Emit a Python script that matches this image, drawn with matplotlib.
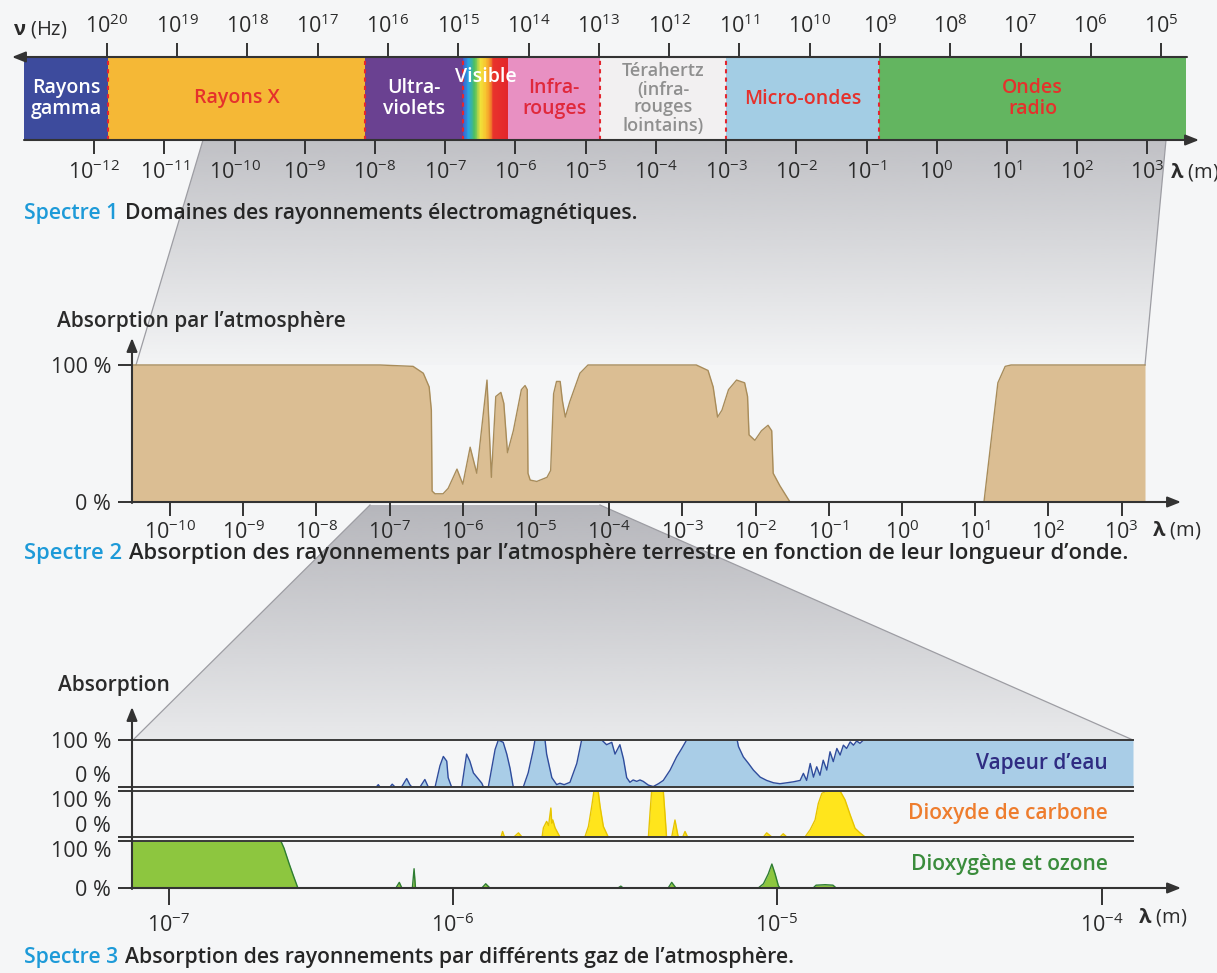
import numpy as np
import matplotlib
matplotlib.use('Agg')
import matplotlib.pyplot as plt
import matplotlib.colors as mcolors
from matplotlib.patches import Polygon
from matplotlib.ticker import NullLocator

plt.rcParams['font.family'] = ['Open Sans', 'DejaVu Sans']
plt.rcParams['mathtext.fontset'] = 'custom'
plt.rcParams['mathtext.rm'] = 'Open Sans'
plt.rcParams['mathtext.it'] = 'Open Sans:italic'
plt.rcParams['mathtext.bf'] = 'Open Sans:bold'

W, H = 1217, 973

# --- Spectre 1 : domaines (bornes en log10 de la longueur d'onde en m)
band_names = ['Rayons\ngamma', 'Rayons X', 'Ultra-\nviolets', 'Visible', 'Infra-\nrouges',
              'Térahertz\n(infra-\nrouges\nlointains)', 'Micro-ondes', 'Ondes\nradio']
band_edges_exp = [-13.0, -11.8, -8.15, -6.75, -6.1, -4.8, -3.0, -0.82, 3.55]
band_colors = ['#3d4b9d', '#f5b836', '#6a4191', None, '#e890c2', '#f2f0f1', '#a3cde4', '#63b560']
band_text_colors = ['white', '#e5312c', 'white', 'white', '#e0293c', '#8f8f8f', '#e5312c', '#e5312c']
rainbow = [(0.0, '#3d5fcf'), (0.12, '#27a6e2'), (0.25, '#4cbf62'), (0.38, '#f0e23a'),
           (0.5, '#f8c42f'), (0.6, '#f3902a'), (0.68, '#e8322c'), (1.0, '#e3262b')]
wl_ticks_1 = list(range(-12, 4))
nu_ticks_1 = list(range(20, 4, -1))
nu_axis_exp = (21.18, 4.645)   # frequency axis as drawn in the book (not exactly c / lambda)

# --- Spectre 2 : absorption par l'atmosphere (log10 lambda en m, %)
atm_log_wl = [-10.52, -7.13, -6.68, -6.54, -6.46, -6.43, -6.42, -6.38, -6.27, -6.20,
              -6.08, -6.00, -5.90, -5.81, -5.74, -5.67, -5.61, -5.55, -5.48, -5.44,
              -5.39, -5.31, -5.20, -5.15, -5.12, -5.11, -5.08, -4.99, -4.85, -4.80,
              -4.76, -4.72, -4.67, -4.64, -4.60, -4.54, -4.40, -4.29, -2.81, -2.65,
              -2.58, -2.52, -2.46, -2.37, -2.26, -2.15, -2.11, -2.09, -2.01, -1.92,
              -1.83, -1.78, -1.76, -1.67, -1.53, 1.12, 1.31, 1.41, 1.49, 3.32]
atm_abs = [100, 100, 99, 94, 84, 67, 8, 6, 6, 10,
           24, 13, 40, 21, 55, 89, 18, 77, 80, 72,
           36, 52, 82, 85, 82, 21, 16, 15, 18, 23,
           79, 88, 88, 74, 62, 73, 94, 100, 100, 96,
           84, 62, 67, 82, 89, 87, 77, 49, 45, 52,
           56, 52, 21, 12, 0, 0, 87, 99, 100, 100]
atm_ticks = list(range(-10, 4))

# --- Spectre 3 : absorption par gaz (log10 lambda en m, %)
h2o_log_wl = [-7.13, -6.27, -6.263, -6.257, -6.222, -6.214, -6.204, -6.181, -6.163, -6.152,
              -6.145, -6.116, -6.099, -6.087, -6.063, -6.046, -6.034, -6.022, -6.017, -6.005,
              -5.973, -5.958, -5.948, -5.937, -5.911, -5.906, -5.891, -5.870, -5.860, -5.845,
              -5.834, -5.824, -5.814, -5.783, -5.768, -5.752, -5.747, -5.716, -5.711, -5.695,
              -5.680, -5.670, -5.657, -5.639, -5.618, -5.603, -5.541, -5.526, -5.510, -5.500,
              -5.485, -5.474, -5.464, -5.454, -5.444, -5.433, -5.423, -5.413, -5.397, -5.382,
              -5.366, -5.351, -5.330, -5.310, -5.294, -5.279, -5.123, -5.119, -5.104, -5.088,
              -5.073, -5.052, -5.032, -5.011, -4.991, -4.970, -4.950, -4.929, -4.919, -4.909,
              -4.898, -4.888, -4.878, -4.868, -4.858, -4.847, -4.837, -4.827, -4.816, -4.806,
              -4.796, -4.786, -4.775, -4.765, -4.755, -4.745, -4.734, -3.905]
h2o_abs = [0, 0, 5, 0, 0, 6, 0, 0, 18, 5,
           0, 0, 16, 0, 0, 45, 65, 55, 20, 0,
           0, 70, 55, 30, 8, 0, 0, 80, 100, 95,
           70, 40, 0, 0, 30, 80, 100, 100, 70, 20,
           5, 8, 5, 10, 50, 100, 100, 90, 95, 70,
           90, 60, 20, 10, 15, 12, 15, 12, 4, 1,
           7, 14, 36, 64, 82, 100, 100, 86, 64, 50,
           36, 21, 14, 9, 7, 9, 11, 14, 29, 14,
           50, 21, 43, 25, 57, 36, 75, 54, 82, 68,
           89, 82, 96, 89, 98, 93, 100, 100]
co2_log_wl = [-7.13, -5.852, -5.847, -5.841, -5.812, -5.798, -5.787, -5.725, -5.721, -5.711,
              -5.705, -5.698, -5.695, -5.692, -5.685, -5.676, -5.670, -5.593, -5.582, -5.572,
              -5.565, -5.552, -5.546, -5.536, -5.521, -5.397, -5.392, -5.387, -5.351, -5.346,
              -5.341, -5.325, -5.315, -5.305, -5.291, -5.284, -5.276, -5.042, -5.032, -5.016,
              -4.991, -4.981, -4.970, -4.914, -4.898, -4.883, -4.873, -4.862, -4.847, -4.806,
              -4.791, -4.775, -4.760, -4.745, -4.729, -3.905]
co2_abs = [0, 0, 12, 0, 0, 9, 0, 0, 20, 34,
           25, 63, 30, 37, 20, 8, 0, 0, 23, 66,
           100, 100, 66, 23, 0, 0, 52, 100, 100, 52,
           0, 0, 37, 0, 0, 12, 0, 0, 9, 0,
           0, 7, 0, 0, 16, 37, 73, 95, 100, 100,
           81, 48, 19, 9, 0, 0]
o2_log_wl = [-7.13, -6.606, -6.595, -6.577, -6.563, -6.546, -6.201, -6.189, -6.180, -6.143,
             -6.137, -6.132, -5.911, -5.899, -5.886, -5.491, -5.482, -5.475, -5.336, -5.325,
             -5.312, -5.058, -5.042, -5.027, -5.016, -5.006, -4.996, -4.991, -4.889, -4.880,
             -4.852, -4.828, -4.818, -3.905]
o2_abs = [100, 100, 85, 52, 28, 0, 0, 12, 0, 0,
          41, 0, 0, 9, 0, 0, 4, 0, 0, 12,
          0, 0, 9, 30, 51, 30, 5, 0, 0, 6,
          7, 6, 0, 0]
gas_names = ['Vapeur d’eau', 'Dioxyde de carbone', 'Dioxygène et ozone']
gas_ticks = [-7, -6, -5, -4]
# the book's decades are not all the same width: knots of the drawn axis (exponent -> px)
knot_exp = [-9, -7, -6, -5, -4, -2]
knot_pos = [-568, 0, 284, 608, 933, 1583]


def fwd(x):
    return np.interp(np.log10(np.maximum(x, 1e-30)), knot_exp, knot_pos)


def inv(p):
    return 10.0 ** np.interp(p, knot_pos, knot_exp)


def pow_labels(exps):
    return [r'$10^{%d}$' % e for e in exps]


fig = plt.figure(figsize=(W / 100, H / 100), dpi=100, facecolor='#f5f6f7')


def px_axes(x0, y0, x1, y1, **kw):
    return fig.add_axes([x0 / W, 1 - y1 / H, (x1 - x0) / W, (y1 - y0) / H], **kw)


bg = px_axes(0, 0, W, H, zorder=0)
ov = px_axes(0, 0, W, H, zorder=10)


def grey_wedge(pts, a_top, a_bot):
    poly = Polygon(pts, closed=True, fc='none', ec='none')
    bg.add_patch(poly)
    xs = [p[0] for p in pts]
    ys = [p[1] for p in pts]
    grad = np.zeros((64, 1, 4))
    grad[..., :3] = mcolors.to_rgb('#8c8c94')
    grad[:, 0, 3] = np.linspace(a_top, a_bot, 64)
    im = bg.imshow(grad, extent=(min(xs), max(xs), max(ys), min(ys)), aspect='auto',
                   interpolation='bilinear', zorder=1)
    im.set_clip_path(poly)
    for a, b in ((pts[0], pts[3]), (pts[1], pts[2])):
        bg.plot([a[0], b[0]], [a[1], b[1]], color='#9d9da3', lw=0.9, zorder=2)


grey_wedge([(203, 140), (1166, 140), (1145, 365), (136, 365)], 0.5, 0.02)
grey_wedge([(370, 505), (600, 505), (1133, 740), (133, 740)], 0.6, 0.12)
for a in (bg, ov):
    a.set_xlim(0, W)
    a.set_ylim(H, 0)
    a.set_axis_off()

arrow = dict(arrowstyle='-|>,head_length=0.8,head_width=0.32', color='#333333', lw=1.5,
             shrinkA=0, shrinkB=0)
tick_kw = dict(direction='out', width=1.4, color='#333333', labelsize=15.5, labelcolor='#2b2b2b')
unit_kw = dict(fontsize=14.5, va='center', color='#2b2b2b')

# ---------------- Spectre 1
ax1 = px_axes(24, 57, 1186, 140, zorder=3)
ax1.set_xscale('log')
ax1.set_xlim(10.0 ** band_edges_exp[0], 10.0 ** band_edges_exp[-1])
ax1.set_ylim(0, 1)
edges = 10.0 ** np.array(band_edges_exp)
vis_cmap = mcolors.LinearSegmentedColormap.from_list('vis', rainbow)
for i, name in enumerate(band_names):
    lo, hi = edges[i], edges[i + 1]
    if band_colors[i] is None:
        xs = np.logspace(band_edges_exp[i], band_edges_exp[i + 1], 61)
        ax1.pcolormesh(xs, [0, 1], np.linspace(0, 1, 60)[None, :], cmap=vis_cmap, shading='flat')
    else:
        ax1.axvspan(lo, hi, color=band_colors[i], lw=0)
    ty = 0.76 if name == 'Visible' else 0.5
    ax1.text(np.sqrt(lo * hi), ty, name, ha='center', va='center', color=band_text_colors[i],
             fontsize=14 if '\n(' not in name else 13, fontweight='semibold',
             linespacing=1.0 if '\n(' in name else 1.12, zorder=5)
for i in range(1, len(edges) - 1):
    if band_names[i - 1] != 'Visible':
        ax1.axvline(edges[i], color='#e3262f', ls=(0, (2, 2)), lw=1.5)
for s in ax1.spines.values():
    s.set_visible(False)
ax1.set_yticks([])
ax1.set_xticks(10.0 ** np.array(wl_ticks_1), pow_labels(wl_ticks_1))
ax1.xaxis.set_minor_locator(NullLocator())
ax1.tick_params(axis='x', length=10, pad=5, **tick_kw)

ax1t = ax1.twiny()
ax1t.set_xscale('log')
ax1t.set_xlim(10.0 ** nu_axis_exp[0], 10.0 ** nu_axis_exp[1])
ax1t.set_xticks(10.0 ** np.array(nu_ticks_1, dtype=float), pow_labels(nu_ticks_1))
ax1t.xaxis.set_minor_locator(NullLocator())
ax1t.tick_params(axis='x', length=10, pad=4, **tick_kw)
for s in ax1t.spines.values():
    s.set_visible(False)

ov.annotate('', xy=(12, 57), xytext=(1187, 57), arrowprops=arrow)
ov.annotate('', xy=(1199, 140), xytext=(24, 140), arrowprops=arrow)
ov.text(13, 30, r'$\mathbf{ν}$ (Hz)', **unit_kw)
ov.text(1170, 172, r'$\mathbf{λ}$ (m)', **unit_kw)

# ---------------- Spectre 2
ax2 = px_axes(132, 365, 1145, 502, zorder=3)
ax2.patch.set_alpha(0)
ax2.set_xscale('log')
ax2.set_xlim(10.0 ** -10.52, 10.0 ** 3.32)
ax2.set_ylim(0, 100)
x2 = 10.0 ** np.array(atm_log_wl)
ax2.fill_between(x2, atm_abs, 0, color='#dbbe93', lw=0)
ax2.plot(x2, atm_abs, color='#a88c5a', lw=1.0, clip_on=False)
for s in ax2.spines.values():
    s.set_visible(False)
ax2.set_xticks(10.0 ** np.array(atm_ticks, dtype=float), pow_labels(atm_ticks))
ax2.xaxis.set_minor_locator(NullLocator())
ax2.set_yticks([0, 100], ['0 %', '100 %'])
ax2.tick_params(axis='y', length=10, pad=5, **tick_kw)
ax2.tick_params(axis='x', length=10, pad=3, **tick_kw)
ov.annotate('', xy=(132, 338), xytext=(132, 503), arrowprops=arrow)
ov.annotate('', xy=(1181, 502), xytext=(131, 502), arrowprops=arrow)
ov.text(57, 322, 'Absorption par l’atmosphère', fontsize=15, fontweight='semibold',
        va='center', color='#2b2b2b')
ov.text(1152, 530, r'$\mathbf{λ}$ (m)', **unit_kw)

# ---------------- Spectre 3
gas_boxes = [(740, 787), (791, 837), (841, 888)]
gas_data = [(h2o_log_wl, h2o_abs), (co2_log_wl, co2_abs), (o2_log_wl, o2_abs)]
gas_fill = ['#a9cde7', '#ffe51c', '#8dc63f']
gas_line = ['#2f4c9c', '#e6c400', '#2e7d32']
gas_text = ['#2f2c82', '#ee7d2e', '#3a8c3c']
for k, ((top, bot), (lw_exp, ab)) in enumerate(zip(gas_boxes, gas_data)):
    ax = px_axes(132, top, 1133, bot, zorder=3)
    ax.patch.set_alpha(0)
    ax.set_xscale('function', functions=(fwd, inv))
    ax.set_xlim(10.0 ** -7.13, 10.0 ** -3.905)
    ax.set_ylim(0, 100)
    xg = 10.0 ** np.array(lw_exp)
    ax.fill_between(xg, ab, 0, color=gas_fill[k], lw=0)
    ax.plot(xg, ab, color=gas_line[k], lw=1.0)
    for side, s in ax.spines.items():
        s.set_visible(side in ('top', 'bottom'))
        s.set_color('#3a3a3a')
        s.set_linewidth(1.4)
    ax.set_yticks([0, 100], ['0 %', '100 %'])
    ax.tick_params(axis='y', length=10, pad=5, **tick_kw)
    labs = ax.get_yticklabels()
    if k > 0:
        labs[1].set_va('top')
    if k < 2:
        labs[0].set_va('bottom')
    if k == 2:
        ax.set_xticks(10.0 ** np.array(gas_ticks, dtype=float), pow_labels(gas_ticks))
        ax.xaxis.set_minor_locator(NullLocator())
        ax.tick_params(axis='x', length=12, pad=6, **tick_kw)
    else:
        ax.set_xticks([])
        ax.xaxis.set_minor_locator(NullLocator())
    ov.text(1108, (top + bot) / 2, gas_names[k], ha='right', va='center', fontsize=15,
            fontweight='semibold', color=gas_text[k])
ov.annotate('', xy=(132, 707), xytext=(132, 889), arrowprops=arrow)
ov.annotate('', xy=(1181, 888), xytext=(131, 888), arrowprops=arrow)
ov.text(58, 686, 'Absorption', fontsize=15, fontweight='semibold', va='center', color='#2b2b2b')
ov.text(1138, 917, r'$\mathbf{λ}$ (m)', **unit_kw)


def caption(y, num, rest, size):
    t = ov.text(24, y, 'Spectre %d' % num, color='#1d9ad8', fontsize=size,
                fontweight='semibold', va='center')
    ov.annotate(rest, xy=(1, 0), xycoords=t, xytext=(7, 0), textcoords='offset pixels',
                va='bottom', ha='left', fontsize=size, fontweight='semibold', color='#262626')


caption(213, 1, 'Domaines des rayonnements électromagnétiques.', 15.2)
caption(553, 2, 'Absorption des rayonnements par l’atmosphère terrestre en fonction de leur longueur d’onde.', 15.8)
caption(958, 3, 'Absorption des rayonnements par différents gaz de l’atmosphère.', 15.2)

fig.savefig('out.png', dpi=100, facecolor=fig.get_facecolor())
